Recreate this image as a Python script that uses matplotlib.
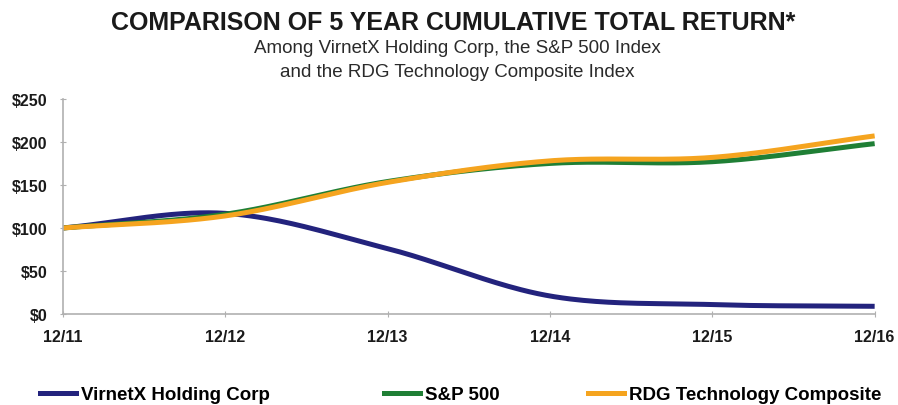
import numpy as np
import matplotlib.pyplot as plt
from matplotlib.lines import Line2D

# data
years = ["12/11", "12/12", "12/13", "12/14", "12/15", "12/16"]
virnetx = [100, 117, 76, 21, 11, 9]
sp500 = [100, 116, 154, 175, 177, 198]
rdg_tech = [100, 114, 153, 178, 182, 207]

series_names = ["VirnetX Holding Corp", "S&P 500", "RDG Technology Composite"]
series_colors = ["#23237d", "#1f7f35", "#f5a41f"]

plt.rcParams['font.family'] = ['Liberation Sans', 'DejaVu Sans']


def smooth(x, y, n=40):
    """Catmull-Rom curve through the points (like Excel smoothed lines)"""
    x = np.asarray(x, float)
    y = np.asarray(y, float)
    px = np.concatenate([[2 * x[0] - x[1]], x, [2 * x[-1] - x[-2]]])
    py = np.concatenate([[2 * y[0] - y[1]], y, [2 * y[-1] - y[-2]]])
    xs, ys = [], []
    t = np.linspace(0, 1, n)
    for i in range(1, len(px) - 2):
        for p, out in ((px, xs), (py, ys)):
            p0, p1, p2, p3 = p[i - 1], p[i], p[i + 1], p[i + 2]
            out.extend(0.5 * (2 * p1 + (-p0 + p2) * t
                              + (2 * p0 - 5 * p1 + 4 * p2 - p3) * t ** 2
                              + (-p0 + 3 * p1 - 3 * p2 + p3) * t ** 3))
    return np.array(xs), np.array(ys)


fig = plt.figure(figsize=(8.98, 4.06), dpi=100)
ax = fig.add_axes([0.070, 0.224, 0.904, 0.530])

x = np.arange(len(years))
for vals, name, col in zip([virnetx, sp500, rdg_tech], series_names, series_colors):
    sx, sy = smooth(x, vals)
    ax.plot(sx, sy, color=col, lw=3.6, label=name, solid_capstyle='butt')

ax.set_xlim(0, len(years) - 1)
ax.set_ylim(0, 250)
ax.set_xticks(x)
ax.set_xticklabels(years, fontweight='bold', fontsize=11.5)
ax.set_yticks(range(0, 251, 50))
ax.set_yticklabels([f"${v}" for v in range(0, 251, 50)], fontweight='bold', fontsize=11.5)
for s in ['top', 'right']:
    ax.spines[s].set_visible(False)
for s in ['left', 'bottom']:
    ax.spines[s].set_color('#b0b0b0')
    ax.spines[s].set_linewidth(1.2)
ax.tick_params(axis='both', colors='#b0b0b0', length=4, direction='inout', labelcolor='#1a1a1a')
ax.tick_params(axis='x', pad=9)
ax.tick_params(axis='y', pad=9)

fig.text(0.505, 0.943, "COMPARISON OF 5 YEAR CUMULATIVE TOTAL RETURN*", ha='center', va='center',
         fontsize=18, fontweight='bold', color='#1a1a1a')
fig.text(0.509, 0.880, "Among VirnetX Holding Corp, the S&P 500 Index", ha='center', va='center',
         fontsize=13.5, color='#2a2a2a')
fig.text(0.509, 0.822, "and the RDG Technology Composite Index", ha='center', va='center',
         fontsize=13.5, color='#2a2a2a')

# legend entries placed one by one along the bottom
legend_x = [0.045, 0.428, 0.655]
for name, col, lx in zip(series_names, series_colors, legend_x):
    h = Line2D([], [], color=col, lw=3.6)
    fig.legend([h], [name], loc='center left', bbox_to_anchor=(lx, 0.025), frameon=False,
               handlelength=1.9, handletextpad=0.25, borderpad=0, borderaxespad=0,
               prop={'weight': 'bold', 'size': 13.5})

fig.savefig("out.png", dpi=100, facecolor='white')
